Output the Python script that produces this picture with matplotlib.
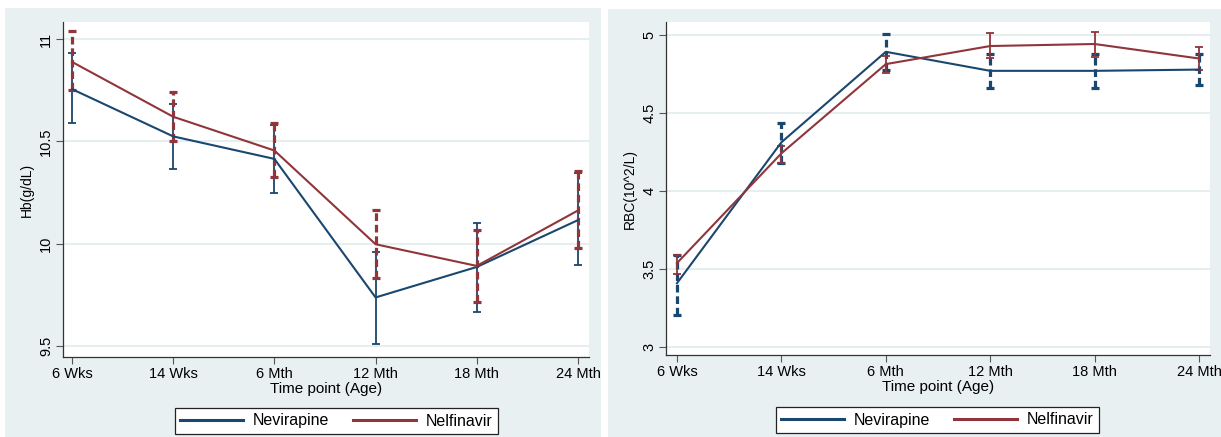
import matplotlib
matplotlib.use("Agg")
import matplotlib.pyplot as plt
from matplotlib.patches import Rectangle
import numpy as np

plt.rcParams['font.family'] = ['Liberation Sans', 'DejaVu Sans']

categories = ["6 Wks", "14 Wks", "6 Mth", "12 Mth", "18 Mth", "24 Mth"]

# Hb panel
hb_nev_mean = [10.755, 10.524, 10.414, 9.737, 9.886, 10.115]
hb_nev_lo = [10.59, 10.363, 10.245, 9.51, 9.667, 9.895]
hb_nev_hi = [10.93, 10.68, 10.58, 9.96, 10.10, 10.346]
hb_nel_mean = [10.888, 10.62, 10.455, 9.997, 9.891, 10.162]
hb_nel_lo = [10.75, 10.503, 10.325, 9.83, 9.714, 9.977]
hb_nel_hi = [11.04, 10.74, 10.59, 10.166, 10.066, 10.356]

# RBC panel
rbc_nev_mean = [3.409, 4.312, 4.892, 4.77, 4.77, 4.778]
rbc_nev_lo = [3.204, 4.18, 4.774, 4.66, 4.66, 4.68]
rbc_nev_hi = [3.59, 4.437, 5.004, 4.88, 4.88, 4.88]
rbc_nel_mean = [3.538, 4.241, 4.813, 4.929, 4.942, 4.849]
rbc_nel_lo = [3.467, 4.178, 4.757, 4.85, 4.86, 4.774]
rbc_nel_hi = [3.591, 4.29, 4.867, 5.011, 5.017, 4.925]

hb_ticks = [9.5, 10, 10.5, 11]
hb_ticklabels = ["9.5", "10", "10.5", "11"]
rbc_ticks = [3, 3.5, 4, 4.5, 5]
rbc_ticklabels = ["3", "3.5", "4", "4.5", "5"]

series_names = ["Nevirapine", "Nelfinavir"]

BLUE = "#1a476f"
RED = "#90353b"
BG = "#e8f0f2"
GRID = "#e6eef0"

W, H = 1221, 437
fig = plt.figure(figsize=(W / 100, H / 100), dpi=100)
fig.patch.set_facecolor("white")

# panel backgrounds
fig.patches.append(Rectangle((5 / W, 0), (601 - 5) / W, (437 - 8) / H,
                             transform=fig.transFigure, facecolor=BG, edgecolor="none", zorder=-10))
fig.patches.append(Rectangle((608 / W, 0), (1221 - 608) / W, (437 - 9) / H,
                             transform=fig.transFigure, facecolor=BG, edgecolor="none", zorder=-10))


def px_axes(l, t, r, b):
    return fig.add_axes([l / W, 1 - b / H, (r - l) / W, (b - t) / H])


def draw_eb(ax, x, mean, lo, hi, color, dashed, z):
    mean = np.array(mean)
    yerr = [mean - np.array(lo), np.array(hi) - mean]
    if dashed:
        eb = ax.errorbar(x, mean, yerr=yerr, fmt='none', ecolor=color,
                         elinewidth=2.3, capsize=3, capthick=2.3, zorder=z)
        eb[2][0].set_linestyle((0, (2.4, 1.2)))
    else:
        eb = ax.errorbar(x, mean, yerr=yerr, fmt='none', ecolor=color,
                         elinewidth=1.3, capsize=3.2, capthick=1.3, zorder=z)


def setup(ax, ylim, ticks, ticklabels, ylabel, xlim):
    ax.set_facecolor("white")
    ax.set_xlim(*xlim)
    ax.set_ylim(*ylim)
    ax.set_xticks(range(len(categories)))
    ax.set_xticklabels(categories, fontsize=10.5)
    ax.set_yticks(ticks)
    ax.set_yticklabels(ticklabels, fontsize=10.5, rotation=90, va="center")
    for s in ["top", "right"]:
        ax.spines[s].set_visible(False)
    for s in ["left", "bottom"]:
        ax.spines[s].set_color("#333333")
        ax.spines[s].set_linewidth(0.9)
    ax.tick_params(axis="both", direction="out", length=5, width=0.8, color="#555555", pad=2)
    ax.grid(axis="y", color=GRID, linewidth=1.5)
    ax.set_axisbelow(True)
    ax.set_ylabel(ylabel, fontsize=10, labelpad=4)
    ax.set_xlabel("Time point (Age)", fontsize=11, labelpad=1)


x = np.arange(len(categories))

# Left panel
ax1 = px_axes(63, 22, 589, 357)
setup(ax1, (9.446, 11.083), hb_ticks, hb_ticklabels, "Hb(g/dL)", (-0.089, 5.109))
draw_eb(ax1, x, hb_nev_mean, hb_nev_lo, hb_nev_hi, BLUE, dashed=False, z=3)
draw_eb(ax1, x, hb_nel_mean, hb_nel_lo, hb_nel_hi, RED, dashed=True, z=3.1)
l1, = ax1.plot(x, hb_nev_mean, color=BLUE, lw=1.5, zorder=4)
l2, = ax1.plot(x, hb_nel_mean, color=RED, lw=1.5, zorder=4)

# Right panel
ax2 = px_axes(666, 22, 1210, 355)
setup(ax2, (2.949, 5.083), rbc_ticks, rbc_ticklabels, "RBC(10^2/L)", (-0.105, 5.105))
draw_eb(ax2, x, rbc_nev_mean, rbc_nev_lo, rbc_nev_hi, BLUE, dashed=True, z=3)
draw_eb(ax2, x, rbc_nel_mean, rbc_nel_lo, rbc_nel_hi, RED, dashed=False, z=3.1)
r1, = ax2.plot(x, rbc_nev_mean, color=BLUE, lw=1.5, zorder=4)
r2, = ax2.plot(x, rbc_nel_mean, color=RED, lw=1.5, zorder=4)


def add_legend(handles, cx, cy):
    leg = fig.legend(handles, series_names, loc="center", bbox_to_anchor=(cx / W, 1 - cy / H),
                     ncol=2, fontsize=11.5, frameon=True, fancybox=False, handlelength=3.9,
                     handletextpad=0.65, columnspacing=1.5, borderpad=0.35, borderaxespad=0,
                     framealpha=1)
    leg.get_frame().set_edgecolor("#222222")
    leg.get_frame().set_linewidth(0.9)
    leg.get_frame().set_facecolor("white")
    for lh in leg.get_lines():
        lh.set_linewidth(2.2)
    return leg


add_legend([l1, l2], 336.5, 421)
add_legend([r1, r2], 937.5, 420)

fig.savefig("out.png", dpi=100, facecolor=fig.get_facecolor())
